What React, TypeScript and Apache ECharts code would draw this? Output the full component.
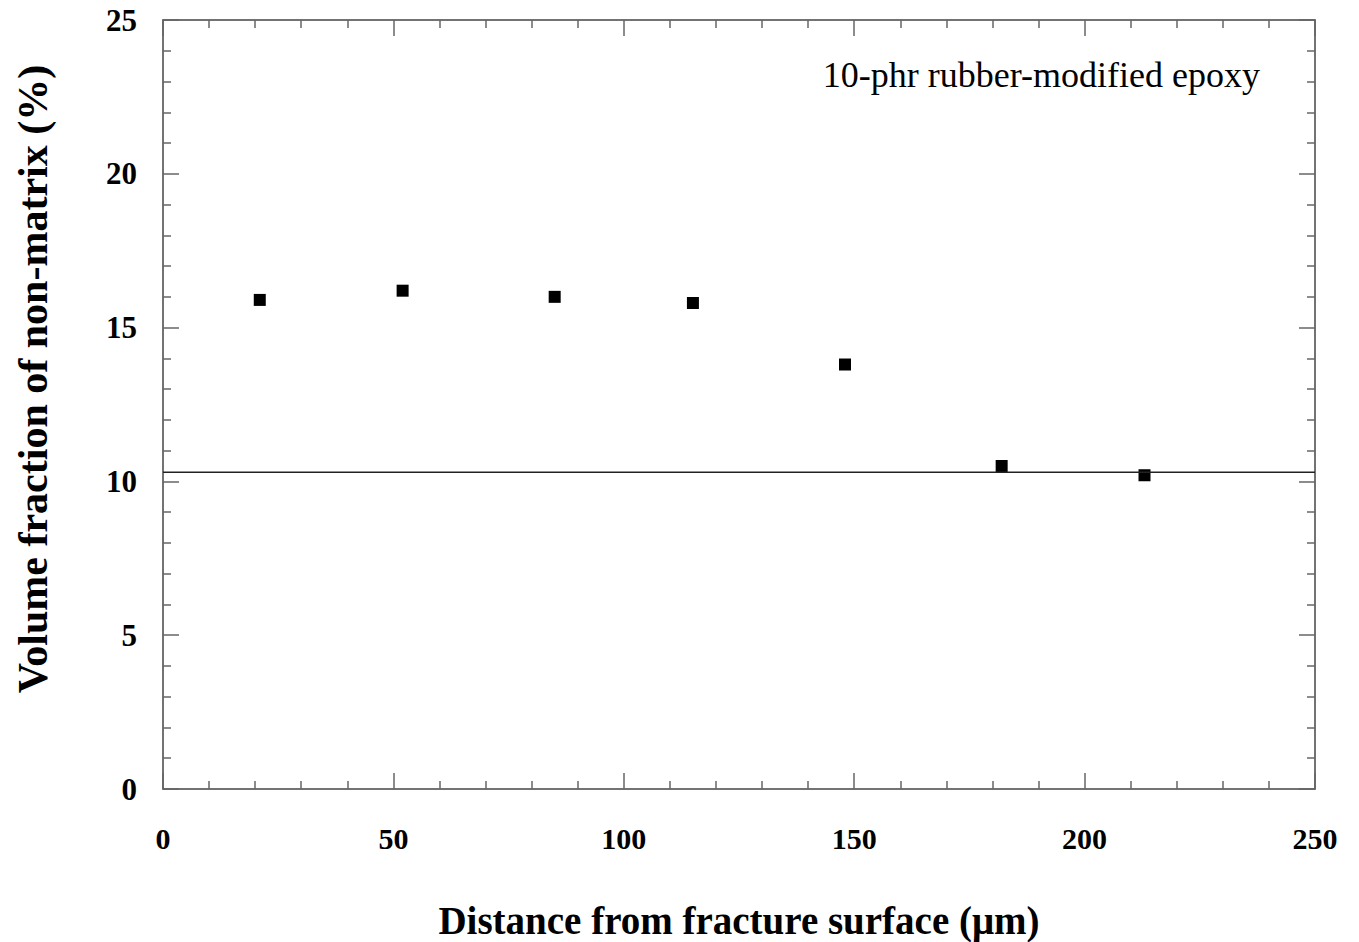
import React, { useEffect, useRef } from "react";
import * as echarts from "echarts";

const distances = [21, 52, 85, 115, 148, 182, 213];
const volumeFractions = [15.9, 16.2, 16.0, 15.8, 13.8, 10.5, 10.2];
const matrixLevel = 10.3;
const xRange = [0, 250];
const yRange = [0, 25];
const titleText = "10-phr rubber-modified epoxy";
const xName = "Distance from fracture surface (\u03bcm)";
const yName = "Volume fraction of non-matrix (%)";

const FONT = "'Liberation Serif', 'Times New Roman', serif";
const AXIS_COLOR = "#444";

export default function App() {
  const ref = useRef<HTMLDivElement>(null);

  useEffect(() => {
    if (!ref.current) return;
    const chart = echarts.init(ref.current, null, { renderer: "svg" });

    const baseAxis = (extra: any) => ({
      axisLine: { show: true, onZero: false, lineStyle: { color: AXIS_COLOR, width: 1.5 } },
      axisTick: { show: true, inside: true, length: 16, lineStyle: { color: "#666", width: 1.5 } },
      minorTick: { show: true, splitNumber: 5, length: 8, lineStyle: { color: "#666", width: 1.5 } },
      splitLine: { show: false },
      ...extra,
    });

    chart.setOption({
      animation: false,
      backgroundColor: "#fff",
      grid: {
        left: 163,
        top: 20,
        right: 44,
        bottom: 153,
        containLabel: false,
        outerBoundsMode: "none",
      },
      graphic: [
        {
          type: "text",
          right: 99,
          top: 57,
          style: {
            text: titleText,
            font: `normal 36px ${FONT}`,
            fill: "#000",
          },
        },
        {
          type: "text",
          x: 33,
          y: 379,
          rotation: Math.PI / 2,
          style: {
            text: yName,
            font: `bold 42px ${FONT}`,
            fill: "#000",
            align: "center",
            verticalAlign: "middle",
          },
        },
      ],
      xAxis: [
        baseAxis({
          type: "value",
          min: xRange[0],
          max: xRange[1],
          interval: 50,
          position: "bottom",
          name: xName,
          nameLocation: "middle",
          nameGap: 112,
          nameTextStyle: { fontFamily: FONT, fontWeight: "bold", fontSize: 39, color: "#000" },
          axisLabel: { show: true, margin: 34, fontFamily: FONT, fontWeight: "bold", fontSize: 30, color: "#000" },
        }),
        baseAxis({
          type: "value",
          min: xRange[0],
          max: xRange[1],
          interval: 50,
          position: "top",
          axisLabel: { show: false },
        }),
      ],
      yAxis: [
        baseAxis({
          type: "value",
          min: yRange[0],
          max: yRange[1],
          interval: 5,
          position: "left",
          axisLabel: { show: true, margin: 26, fontFamily: FONT, fontWeight: "bold", fontSize: 31, color: "#000" },
        }),
        baseAxis({
          type: "value",
          min: yRange[0],
          max: yRange[1],
          interval: 5,
          position: "right",
          axisLabel: { show: false },
        }),
      ],
      series: [
        {
          type: "line",
          data: [
            [xRange[0], matrixLevel],
            [xRange[1], matrixLevel],
          ],
          symbol: "none",
          lineStyle: { color: "#222", width: 1.5 },
          silent: true,
        },
        {
          type: "scatter",
          data: distances.map((d, i) => [d, volumeFractions[i]]),
          symbol: "rect",
          symbolSize: 12,
          itemStyle: { color: "#000", opacity: 1 },
        },
      ],
    });

    return () => chart.dispose();
  }, []);

  return (
    <div
      ref={ref}
      style={{ position: "fixed", left: 0, top: 0, width: 1359, height: 942 }}
    />
  );
}
